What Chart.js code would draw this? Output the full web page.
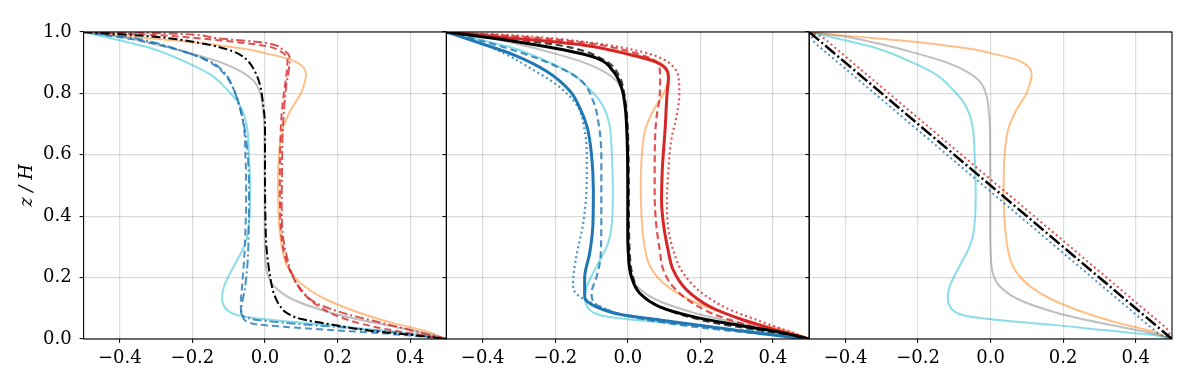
<!DOCTYPE html>
<html>
<head>
<meta charset="utf-8">
<script src="https://cdn.jsdelivr.net/npm/chart.js@4.4.1/dist/chart.umd.min.js"></script>
<style>
  html, body { margin: 0; padding: 0; background: #fff; }
  #wrap { position: relative; width: 1196px; height: 383px; }
  #wrap canvas { position: absolute; left: 0; top: 0; }
</style>
</head>
<body>
<div id="wrap">
  <canvas id="c1" width="1196" height="383"></canvas>
  <canvas id="c2" width="1196" height="383"></canvas>
  <canvas id="c3" width="1196" height="383"></canvas>
</div>
<script>
// tick values
const xTicks = [-0.4, -0.2, 0.0, 0.2, 0.4];
const yTicks = [0.0, 0.2, 0.4, 0.6, 0.8, 1.0];

// reference profiles [x, z/H], shared by all three panels
const refCyan = [[-0.5,1.0],[-0.408,0.975],[-0.316,0.948],[-0.224,0.905],[-0.15,0.861],[-0.104,0.812],[-0.076,0.774],[-0.058,0.731],[-0.049,0.687],[-0.044,0.6],[-0.041,0.48],[-0.044,0.377],[-0.05,0.33],[-0.062,0.29],[-0.08,0.25],[-0.1,0.205],[-0.113,0.17],[-0.118,0.138],[-0.104,0.094],[-0.058,0.073],[0.034,0.06],[0.172,0.046],[0.31,0.029],[0.448,0.013],[0.5,0.0]];
const refGray = [[-0.5,1.0],[-0.408,0.986],[-0.316,0.964],[-0.224,0.937],[-0.132,0.905],[-0.067,0.872],[-0.03,0.839],[-0.012,0.796],[-0.005,0.742],[-0.002,0.687],[-0.001,0.5],[-0.001,0.35],[0.0,0.29],[0.006,0.215],[0.025,0.172],[0.08,0.127],[0.172,0.089],[0.264,0.062],[0.356,0.04],[0.448,0.018],[0.5,0.0]];
const refOrange = [[-0.5,1.0],[-0.408,0.989],[-0.224,0.97],[-0.04,0.942],[-0.003,0.932],[0.071,0.91],[0.103,0.888],[0.113,0.86],[0.108,0.83],[0.099,0.8],[0.071,0.746],[0.048,0.681],[0.039,0.605],[0.036,0.5],[0.039,0.377],[0.048,0.29],[0.062,0.235],[0.099,0.181],[0.172,0.127],[0.264,0.084],[0.356,0.051],[0.448,0.024],[0.5,0.0]];

// panel 1
const p1Red1 = [[-0.5,1.0],[-0.28,0.996],[-0.134,0.98],[0.004,0.964],[0.05,0.942],[0.068,0.915],[0.066,0.88],[0.058,0.82],[0.052,0.74],[0.048,0.65],[0.047,0.55],[0.046,0.45],[0.05,0.33],[0.06,0.27],[0.075,0.21],[0.1,0.16],[0.143,0.116],[0.235,0.078],[0.327,0.051],[0.419,0.024],[0.5,0.0]];
const p1Red2 = [[-0.5,1.0],[-0.3,0.99],[-0.12,0.972],[0.0,0.955],[0.045,0.935],[0.062,0.91],[0.06,0.87],[0.052,0.8],[0.045,0.72],[0.042,0.62],[0.041,0.5],[0.042,0.4],[0.048,0.31],[0.06,0.25],[0.078,0.2],[0.105,0.15],[0.15,0.105],[0.21,0.07],[0.3,0.04],[0.428,0.013],[0.5,0.0]];
const p1Blue1 = [[-0.5,1.0],[-0.363,0.98],[-0.226,0.937],[-0.152,0.905],[-0.115,0.872],[-0.088,0.818],[-0.072,0.763],[-0.058,0.698],[-0.048,0.605],[-0.044,0.48],[-0.045,0.35],[-0.048,0.25],[-0.056,0.16],[-0.064,0.11],[-0.066,0.088],[-0.04,0.066],[0.05,0.053],[0.2,0.039],[0.35,0.022],[0.45,0.008],[0.5,0.0]];
const p1Blue2 = [[-0.5,1.0],[-0.36,0.975],[-0.22,0.935],[-0.15,0.9],[-0.11,0.86],[-0.085,0.81],[-0.068,0.75],[-0.058,0.69],[-0.054,0.6],[-0.052,0.48],[-0.054,0.35],[-0.058,0.25],[-0.064,0.16],[-0.067,0.11],[-0.062,0.075],[-0.035,0.05],[0.05,0.04],[0.2,0.028],[0.35,0.016],[0.45,0.006],[0.5,0.0]];
const p1Black = [[-0.5,1.0],[-0.317,0.986],[-0.179,0.964],[-0.088,0.937],[-0.051,0.91],[-0.028,0.872],[-0.014,0.828],[-0.005,0.763],[0.0,0.698],[0.0,0.55],[0.001,0.4],[0.004,0.3],[0.012,0.22],[0.024,0.15],[0.04,0.11],[0.06,0.085],[0.1,0.065],[0.17,0.05],[0.29,0.027],[0.43,0.01],[0.5,0.0]];

// panel 2
const p2Red = [[-0.5,1.0],[-0.316,0.98],[-0.132,0.959],[0.006,0.926],[0.071,0.905],[0.103,0.883],[0.112,0.85],[0.108,0.796],[0.103,0.687],[0.095,0.55],[0.093,0.453],[0.098,0.377],[0.111,0.29],[0.125,0.225],[0.162,0.16],[0.227,0.105],[0.318,0.062],[0.411,0.029],[0.5,0.0]];
const p2RedDash = [[-0.5,1.0],[-0.3,0.985],[-0.12,0.965],[0.01,0.935],[0.07,0.91],[0.088,0.88],[0.089,0.83],[0.087,0.78],[0.08,0.73],[0.075,0.65],[0.074,0.48],[0.078,0.377],[0.088,0.29],[0.098,0.225],[0.125,0.17],[0.18,0.116],[0.254,0.073],[0.365,0.035],[0.5,0.0]];
const p2RedDot = [[-0.5,1.0],[-0.3,0.988],[-0.1,0.965],[0.04,0.935],[0.1,0.91],[0.13,0.88],[0.14,0.85],[0.142,0.796],[0.135,0.73],[0.12,0.65],[0.112,0.55],[0.108,0.45],[0.11,0.377],[0.125,0.29],[0.153,0.214],[0.205,0.149],[0.273,0.1],[0.36,0.06],[0.45,0.022],[0.5,0.0]];
const p2Blue = [[-0.5,1.0],[-0.408,0.964],[-0.316,0.926],[-0.224,0.872],[-0.159,0.807],[-0.132,0.752],[-0.112,0.69],[-0.1,0.6],[-0.095,0.485],[-0.096,0.377],[-0.105,0.28],[-0.119,0.2],[-0.119,0.138],[-0.087,0.105],[-0.013,0.078],[0.088,0.062],[0.227,0.04],[0.365,0.018],[0.5,0.0]];
const p2BlueDash = [[-0.5,1.0],[-0.4,0.97],[-0.3,0.935],[-0.196,0.888],[-0.132,0.845],[-0.095,0.774],[-0.08,0.698],[-0.073,0.6],[-0.073,0.4],[-0.075,0.268],[-0.086,0.203],[-0.1,0.149],[-0.077,0.105],[0.033,0.067],[0.217,0.035],[0.401,0.013],[0.5,0.0]];
const p2BlueDot = [[-0.5,1.0],[-0.42,0.97],[-0.34,0.93],[-0.27,0.883],[-0.196,0.828],[-0.141,0.763],[-0.122,0.698],[-0.113,0.6],[-0.114,0.485],[-0.123,0.377],[-0.142,0.268],[-0.151,0.181],[-0.14,0.145],[-0.087,0.111],[0.02,0.07],[0.2,0.042],[0.4,0.016],[0.5,0.0]];
const p2Black = [[-0.5,1.0],[-0.316,0.97],[-0.178,0.942],[-0.086,0.915],[-0.04,0.872],[-0.017,0.818],[-0.007,0.752],[-0.003,0.687],[0.0,0.5],[0.0,0.35],[0.001,0.29],[0.01,0.203],[0.033,0.149],[0.088,0.105],[0.18,0.073],[0.273,0.051],[0.411,0.024],[0.5,0.0]];
const p2BlackDash = [[-0.5,1.0],[-0.3,0.975],[-0.16,0.95],[-0.06,0.905],[-0.025,0.86],[-0.01,0.8],[-0.002,0.72],[0.002,0.6],[0.003,0.4],[0.005,0.29],[0.015,0.2],[0.043,0.138],[0.134,0.084],[0.25,0.05],[0.4,0.022],[0.5,0.0]];

// panel 3
const p3Black = [[-0.5,1.0],[0.5,0.0]];
const p3RedDot = [[-0.5,1.0],[-0.465,0.985],[0.485,0.035],[0.5,0.0]];
const p3BlueDot = [[-0.5,1.0],[-0.485,0.965],[0.465,0.015],[0.5,0.0]];

// colours
const cCyan = 'rgba(23,190,207,0.5)';
const cGray = 'rgba(127,127,127,0.5)';
const cOrange = 'rgba(255,127,14,0.5)';
const cRed = '#d62728';
const cRedL = 'rgba(214,39,40,0.8)';
const cBlue = '#1f77b4';
const cBlueL = 'rgba(31,119,180,0.8)';

const DASHDOT = [9, 3, 2, 3];
const DASH = [7, 4];
const DOT = [2, 3];

const fontFamily = "'DejaVu Serif', serif";
const panelW = 362.8;
const panelLefts = [83.6, 446.4, 809.2];

// profiles are x(z), so the line is indexed on z (indexAxis 'y') and smoothed monotone
function line(arr, color, width, dash, straight) {
  return {
    data: arr.map(p => ({ x: p[0], y: p[1] })),
    borderColor: color,
    backgroundColor: color,
    borderWidth: width,
    borderDash: dash || [],
    pointRadius: 0,
    tension: straight ? 0 : 0.4,
    cubicInterpolationMode: straight ? 'default' : 'monotone',
    fill: false
  };
}

function refLines() {
  return [
    line(refOrange, cOrange, 2),
    line(refGray, cGray, 2),
    line(refCyan, cCyan, 2)
  ];
}

const fmt = v => (Math.abs(v) < 1e-9 ? 0 : v).toFixed(1).replace('-', '\u2212');

// frame around the plot area
const frame = {
  id: 'frame',
  afterDatasetsDraw(chart) {
    const a = chart.chartArea;
    const ctx = chart.ctx;
    ctx.save();
    ctx.strokeStyle = '#000';
    ctx.lineWidth = 1.1;
    ctx.strokeRect(a.left, a.top, a.right - a.left, a.bottom - a.top);
    ctx.restore();
  }
};

function makePanel(id, idx, datasets) {
  const left = panelLefts[idx];
  const first = idx === 0;
  const yw = first ? left : 8;
  new Chart(document.getElementById(id), {
    type: 'line',
    data: { datasets: datasets },
    options: {
      indexAxis: 'y',
      responsive: false,
      animation: false,
      devicePixelRatio: 1,
      layout: { padding: { left: left - yw, right: 1196 - left - panelW, top: 32, bottom: 0 } },
      plugins: { legend: { display: false }, tooltip: { enabled: false } },
      scales: {
        x: {
          type: 'linear', position: 'bottom', min: -0.5, max: 0.5,
          afterBuildTicks: s => { s.ticks = xTicks.map(v => ({ value: v })); },
          afterFit: s => { s.height = 44; },
          border: { display: false },
          grid: { color: 'rgba(0,0,0,0.14)', lineWidth: 1.2, tickLength: 4, tickColor: '#000', tickWidth: 1 },
          ticks: { autoSkip: false, maxRotation: 0, padding: 5, color: '#000',
                   font: { family: fontFamily, size: 18 }, callback: v => fmt(v) }
        },
        y: {
          type: 'linear', position: 'left', min: 0, max: 1,
          afterBuildTicks: s => { s.ticks = yTicks.map(v => ({ value: v })); },
          afterFit: s => { s.width = yw; },
          border: { display: false },
          grid: { color: 'rgba(0,0,0,0.14)', lineWidth: 1.2, tickLength: 4, tickColor: '#000', tickWidth: 1 },
          ticks: { display: first, autoSkip: false, padding: 8, color: '#000',
                   font: { family: fontFamily, size: 18 }, callback: v => v.toFixed(1) },
          title: { display: first, text: 'z / H', color: '#000', padding: { top: 17, bottom: 0 },
                   font: { family: fontFamily, size: 18, style: 'italic' } }
        }
      }
    },
    plugins: [frame]
  });
}

makePanel('c1', 0, [
  line(p1Black, '#000', 2, DASHDOT),
  line(p1Red1, cRedL, 2, DASHDOT),
  line(p1Red2, cRedL, 2, DASH),
  line(p1Blue1, cBlueL, 2, DASHDOT),
  line(p1Blue2, cBlueL, 2, DASH)
].concat(refLines()));

makePanel('c2', 1, [
  line(p2Black, '#000', 3),
  line(p2Red, cRed, 3),
  line(p2Blue, cBlue, 3),
  line(p2BlackDash, 'rgba(0,0,0,0.75)', 2.2, DASH),
  line(p2RedDash, cRedL, 2.2, DASH),
  line(p2RedDot, cRedL, 2.2, DOT),
  line(p2BlueDash, cBlueL, 2.2, DASH),
  line(p2BlueDot, cBlueL, 2.2, DOT)
].concat(refLines()));

makePanel('c3', 2, [
  line(p3Black, '#000', 2.5, [13, 3, 2, 3], true),
  line(p3RedDot, cRedL, 2, DOT, true),
  line(p3BlueDot, cBlueL, 2, DOT, true)
].concat(refLines()));
</script>
</body>
</html>
